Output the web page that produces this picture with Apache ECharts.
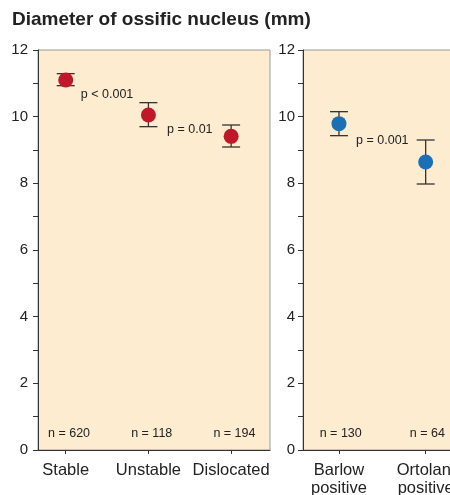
<!DOCTYPE html>
<html><head><meta charset="utf-8">
<script src="https://cdn.jsdelivr.net/npm/echarts@6/dist/echarts.min.js"></script>
<style>html,body{margin:0;padding:0;background:#fff}#c{width:450px;height:495px}</style>
</head><body><div id="c"></div>
<script>
const categoriesA = ['Stable', 'Unstable', 'Dislocated'];
const meanA = [11.1, 10.05, 9.41];
const lowA = [10.93, 9.7, 9.09];
const highA = [11.29, 10.42, 9.75];
const nA = ['n = 620', 'n = 118', 'n = 194'];
const pA = ['p < 0.001', 'p = 0.01'];
const pAx = [1.5, 2.5];
const pAy = [10.65, 9.6];

const categoriesB = ['Barlow\npositive', 'Ortolani\npositive'];
const meanB = [9.79, 8.64];
const lowB = [9.43, 7.98];
const highB = [10.15, 9.3];
const nB = ['n = 130', 'n = 64'];
const pB = ['p = 0.001'];
const pBx = [1.5];
const pBy = [9.28];
const nY = 0.5;

const FONT = "'Liberation Sans', Arial, Helvetica, sans-serif";
const TXT = '#222';

function yAxis(gi, margin) {
  return {
    type: 'value', gridIndex: gi, min: 0, max: 12, interval: 2,
    axisLine: {show: true, lineStyle: {color: '#333', width: 1}},
    axisTick: {show: true, length: 5, lineStyle: {color: '#333'}},
    minorTick: {show: true, splitNumber: 2, length: 5, lineStyle: {color: '#333'}},
    splitLine: {show: false}, minorSplitLine: {show: false},
    axisLabel: {fontFamily: FONT, fontSize: 15, color: TXT, margin: margin}
  };
}
function xAxis(gi, cats, min, max) {
  const vals = cats.map((c, i) => i + 1);
  return {
    type: 'value', gridIndex: gi, min: min, max: max,
    axisLine: {show: true, onZero: false, lineStyle: {color: '#333', width: 1}},
    axisTick: {show: true, length: 4, customValues: vals, lineStyle: {color: '#333'}},
    splitLine: {show: false},
    axisLabel: {customValues: vals, formatter: v => cats[Math.round(v) - 1] || '',
      fontFamily: FONT, fontSize: 16.5, lineHeight: 18, color: TXT, margin: 11,
      hideOverlap: false}
  };
}
function errSeries(gi, low, high) {
  return {
    type: 'custom', xAxisIndex: gi, yAxisIndex: gi, z: 3, clip: false,
    data: low.map((l, i) => [i + 1, l, high[i]]),
    renderItem: (params, api) => {
      const x = api.value(0);
      const a = api.coord([x, api.value(1)]);
      const b = api.coord([x, api.value(2)]);
      const w = 9;
      const st = {stroke: '#333', lineWidth: 1.3};
      return {type: 'group', children: [
        {type: 'line', shape: {x1: a[0], y1: a[1], x2: b[0], y2: b[1]}, style: st},
        {type: 'line', shape: {x1: a[0] - w, y1: a[1], x2: a[0] + w, y2: a[1]}, style: st},
        {type: 'line', shape: {x1: b[0] - w, y1: b[1], x2: b[0] + w, y2: b[1]}, style: st}
      ]};
    }
  };
}
function dotSeries(gi, mean, color) {
  return {
    type: 'scatter', xAxisIndex: gi, yAxisIndex: gi, z: 5,
    symbolSize: 15, itemStyle: {color: color, opacity: 1},
    data: mean.map((m, i) => [i + 1, m])
  };
}
function textSeries(gi, texts, xs, ys) {
  return {
    type: 'custom', xAxisIndex: gi, yAxisIndex: gi, z: 6,
    data: texts.map((t, i) => [xs[i], ys[i]]),
    renderItem: (params, api) => {
      const p = api.coord([api.value(0), api.value(1)]);
      return {type: 'text', x: p[0], y: p[1], style: {
        text: texts[params.dataIndex], align: 'center', verticalAlign: 'middle',
        fontFamily: FONT, fontSize: 12.5, fill: TXT}};
    }
  };
}

const chart = echarts.init(document.getElementById('c'), null, {renderer: 'canvas'});
chart.setOption({
  animation: false,
  title: {text: 'Diameter of ossific nucleus (mm)', left: 7, top: 5,
    textStyle: {fontFamily: FONT, fontSize: 19, fontWeight: 'bold', color: TXT}},
  grid: [
    {left: 38, top: 50, width: 232, height: 400, show: true, outerBoundsMode: 'none', containLabel: false,
      backgroundColor: '#fdecd0', borderColor: '#999', borderWidth: 1},
    {left: 303, top: 50, width: 170, height: 400, show: true, outerBoundsMode: 'none', containLabel: false,
      backgroundColor: '#fdecd0', borderColor: '#999', borderWidth: 1}
  ],
  xAxis: [xAxis(0, categoriesA, 0.665, 3.47), xAxis(1, categoriesB, 0.585, 2.546)],
  yAxis: [yAxis(0, 10), yAxis(1, 8)],
  series: [
    errSeries(0, lowA, highA), dotSeries(0, meanA, '#c0182b'),
    textSeries(0, pA, pAx, pAy),
    textSeries(0, nA, categoriesA.map((c, i) => i + 1.04), categoriesA.map(() => nY)),
    errSeries(1, lowB, highB), dotSeries(1, meanB, '#1a6fb5'),
    textSeries(1, pB, pBx, pBy),
    textSeries(1, nB, categoriesB.map((c, i) => i + 1.02), categoriesB.map(() => nY))
  ]
});
</script></body></html>
